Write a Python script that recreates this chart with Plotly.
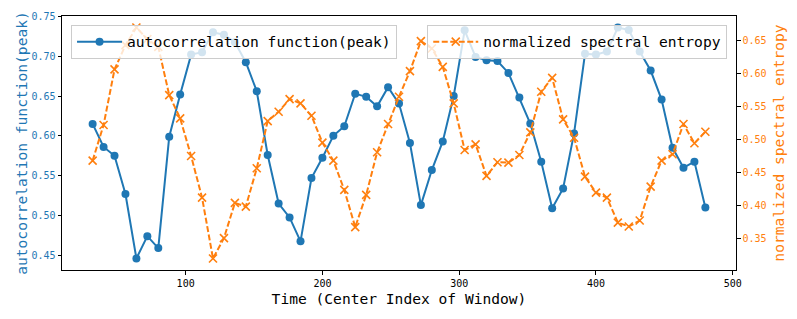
import plotly.graph_objects as go

# Window centers
x_centers = [32, 40, 48, 56, 64, 72, 80, 88, 96, 104, 112, 120, 128, 136, 144,
             152, 160, 168, 176, 184, 192, 200, 208, 216, 224, 232, 240, 248, 256,
             264, 272, 280, 288, 296, 304, 312, 320, 328, 336, 344, 352, 360, 368,
             376, 384, 392, 400, 408, 416, 424, 432, 440, 448, 456, 464, 472, 480]

acf_peak = [0.615, 0.586, 0.575, 0.527, 0.446, 0.474, 0.459, 0.599, 0.652, 0.702,
            0.705, 0.730, 0.727, 0.7175, 0.6925, 0.656, 0.576, 0.515, 0.4975, 0.4675,
            0.547, 0.5725, 0.600, 0.612, 0.653, 0.649, 0.637, 0.661, 0.6405, 0.591,
            0.513, 0.557, 0.593, 0.650, 0.7325, 0.699, 0.695, 0.694, 0.679, 0.648,
            0.6155, 0.5675, 0.509, 0.534, 0.603, 0.703, 0.702, 0.706, 0.736, 0.733,
            0.706, 0.682, 0.6455, 0.585, 0.560, 0.5675, 0.510]

spec_entropy = [0.4676, 0.5217, 0.6061, 0.6429, 0.6697, 0.652, 0.6403, 0.5671, 0.5318,
                0.4747, 0.4115, 0.3191, 0.350, 0.4035, 0.3979, 0.456, 0.5277, 0.5418,
                0.5611, 0.5545, 0.5358, 0.4949, 0.4676, 0.4232, 0.3667, 0.4156, 0.4803,
                0.5232, 0.5646, 0.6035, 0.649, 0.6379, 0.610, 0.5545, 0.4838, 0.4924,
                0.4444, 0.4652, 0.4646, 0.4762, 0.5106, 0.5722, 0.5933, 0.5303, 0.5024,
                0.4433, 0.4191, 0.4115, 0.3736, 0.3676, 0.3767, 0.4282, 0.4676, 0.4773,
                0.5232, 0.494, 0.5115]

name_acf = "autocorrelation function(peak)"
name_ent = "normalized spectral entropy"
x_title = "Time (Center Index of Window)"

BLUE = "#1f77b4"
ORANGE = "#ff7f0e"
FONT = "DejaVu Sans Mono"

fig = go.Figure()
fig.add_trace(go.Scatter(
    x=x_centers, y=acf_peak, name=name_acf, mode="lines+markers",
    line=dict(color=BLUE, width=2),
    marker=dict(symbol="circle", size=8, color=BLUE),
    yaxis="y", legend="legend"))
fig.add_trace(go.Scatter(
    x=x_centers, y=spec_entropy, name=name_ent, mode="lines+markers",
    line=dict(color=ORANGE, width=2, dash="6px,2.5px"),
    marker=dict(symbol="x-thin", size=8, color=ORANGE,
                line=dict(color=ORANGE, width=1.6)),
    yaxis="y2", legend="legend2"))

# The page body adds an 8px offset, so the figure is 8px smaller and margins shifted.
fig.update_layout(
    width=789, height=311,
    margin=dict(l=54, r=61, t=8, b=49),
    paper_bgcolor="white", plot_bgcolor="white",
    font=dict(family=FONT, size=10, color="black"),
    xaxis=dict(range=[9.6, 502.4], tickvals=[100, 200, 300, 400, 500],
               automargin=False,
               showgrid=False, zeroline=False, showline=True, linecolor="black",
               linewidth=1, mirror=True, ticks="outside", ticklen=3.5,
               tickcolor="black", tickfont=dict(size=10, color="black"),
               title=dict(text=x_title, font=dict(size=14.6, color="black"),
                          standoff=6)),
    yaxis=dict(range=[0.4315, 0.7505], tickvals=[0.45, 0.5, 0.55, 0.6, 0.65, 0.7, 0.75],
               tickformat=".2f", automargin=False,
               showgrid=False, zeroline=False, showline=True, linecolor="black",
               linewidth=1, ticks="outside", ticklen=3.5, tickcolor="black",
               tickfont=dict(size=10, color=BLUE),
               title=dict(text=name_acf, font=dict(size=14.6, color=BLUE), standoff=0)),
    yaxis2=dict(range=[0.3016, 0.6872], tickvals=[0.35, 0.4, 0.45, 0.5, 0.55, 0.6, 0.65],
                tickformat=".2f", overlaying="y", side="right", automargin=False,
                showgrid=False, zeroline=False, showline=True, linecolor="black",
                linewidth=1, ticks="outside", ticklen=3.5, tickcolor="black",
                tickfont=dict(size=10, color=ORANGE),
                title=dict(text=name_ent, font=dict(size=14.6, color=ORANGE), standoff=8)),
    legend=dict(x=0.0134, y=0.966, xanchor="left", yanchor="top",
                bgcolor="rgba(255,255,255,0.8)", bordercolor="#cccccc", borderwidth=1,
                font=dict(size=14.6, color="black"), itemwidth=45),
    legend2=dict(x=0.987, y=0.966, xanchor="right", yanchor="top",
                 bgcolor="rgba(255,255,255,0.8)", bordercolor="#cccccc", borderwidth=1,
                 font=dict(size=14.6, color="black"), itemwidth=45),
    showlegend=True,
)

fig.write_html("out.html")
